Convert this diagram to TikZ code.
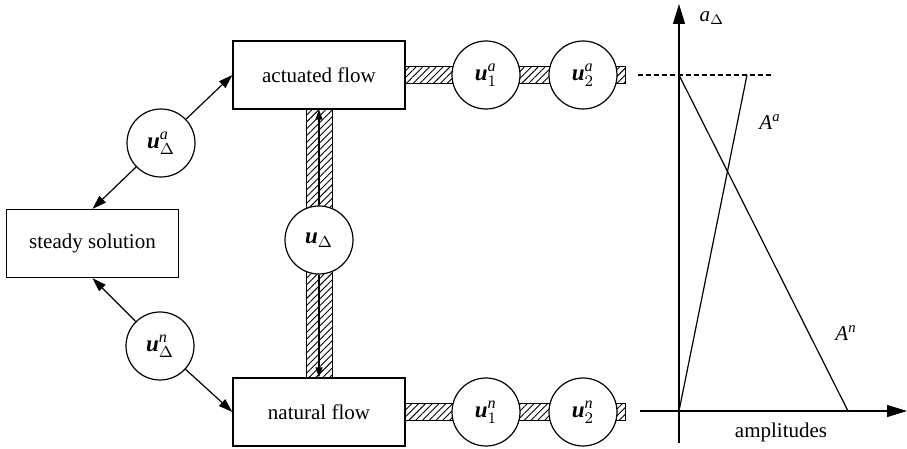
\documentclass[tikz,border=0pt]{standalone}
\usepackage{amsmath}
\usepackage{fontspec}
\setmainfont{Liberation Serif}
\usetikzlibrary{arrows.meta,backgrounds,patterns.meta,calc}

\newcommand{\uvar}[2]{$\textbf{\textit{u}}^{\text{\textit{#1}}}_{#2}$}

\begin{document}
\begin{tikzpicture}[x=0.5pt, y=-0.5pt, line width=0.6pt,
   >={Triangle[length=7pt,width=4.5pt]},
   font=\fontsize{10.5}{12.6}\selectfont,
   flow/.style={rectangle, draw, minimum width=86pt, minimum height=34pt, inner sep=0pt},
   mode/.style={circle, draw, fill=white, minimum size=34pt, inner sep=0pt,
      font=\fontsize{11.5}{13.8}\selectfont},
   hatch/.style={draw, line width=0.5pt, pattern={Lines[angle=45,distance=2.4pt,line width=0.45pt]}},
   small/.style={-{Triangle[length=5pt,width=3.5pt]}},
   axis/.style={-{Triangle[length=10pt,width=6pt]}}]
   \useasboundingbox (0,0) rectangle (907,449);

   \node (act) at (319,75) [flow] {actuated flow};
   \node (nat) at (319,412) [flow] {natural flow};
   \node (steady) at (92.5,243.5) [flow] {steady solution};
   \node (ua) at (161,143) [mode] {\uvar{a}{\Delta}};
   \node (un) at (160,346) [mode] {\uvar{n}{\Delta}};
   \node (ud) at (319,240) [mode] {$\textbf{\textit{u}}_{\Delta}$};
   \node (u1a) at (486,75) [mode] {\uvar{a}{1}};
   \node (u2a) at (583,75) [mode] {\uvar{a}{2}};
   \node (u1n) at (486,412) [mode] {\uvar{n}{1}};
   \node (u2n) at (583,412) [mode] {\uvar{n}{2}};
   \coordinate (endA) at (625,75);
   \coordinate (endN) at (625,412);

   % hatched links behind the modes
   \begin{scope}[on background layer]
   \draw[hatch] ($(act.east)+(0,-8.5)$) rectangle ($(u1a.center)+(0,8.5)$);
   \draw[hatch] ($(u1a.center)+(0,-8.5)$) rectangle ($(u2a.center)+(0,8.5)$);
   \draw[hatch] ($(u2a.center)+(0,-8.5)$) rectangle ($(endA)+(0,8.5)$);
   \draw[hatch] ($(nat.east)+(0,-8.5)$) rectangle ($(u1n.center)+(0,8.5)$);
   \draw[hatch] ($(u1n.center)+(0,-8.5)$) rectangle ($(u2n.center)+(0,8.5)$);
   \draw[hatch] ($(u2n.center)+(0,-8.5)$) rectangle ($(endN)+(0,8.5)$);
   \draw[hatch] ($(act.south)+(-13,0)$) rectangle ($(nat.north)+(13,0)$);
   \end{scope}

   \draw[->] (ua) -- (act.west);
   \draw[->] (ua) -- (steady.north);
   \draw[->] (un) -- (steady.south);
   \draw[->] (un) -- (nat.west);
   \draw[small] (ud) -- (act.south);
   \draw[small] (ud) -- (nat.north);

   % amplitude diagram
   \coordinate (xstart) at (640,411);
   \coordinate (xend) at (907,411);
   \coordinate (ystart) at (679,443);
   \coordinate (yend) at (679,4);
   \coordinate (O) at (679,411);
   \coordinate (dl) at (638,75);
   \coordinate (dr) at (773,75);
   \coordinate (Atop) at (747,75);
   \coordinate (Ntop) at (679,75);
   \coordinate (Nbot) at (848,411);
   \draw[axis] (xstart) -- (xend);
   \draw[axis] (ystart) -- (yend);
   \draw[dash pattern=on 2.5pt off 1.5pt] (dl) -- (dr);
   \draw (O) -- (Atop);
   \draw (Ntop) -- (Nbot);
   \node (la) at (712,18) {$\textit{a}_{\Delta}$};
   \node (lAa) at (770,122) {\textit{A}$^{\text{\textit{a}}}$};
   \node (lAn) at (846,333) {\textit{A}$^{\text{\textit{n}}}$};
   \node (amp) at (781,432) {amplitudes};
\end{tikzpicture}
\end{document}
